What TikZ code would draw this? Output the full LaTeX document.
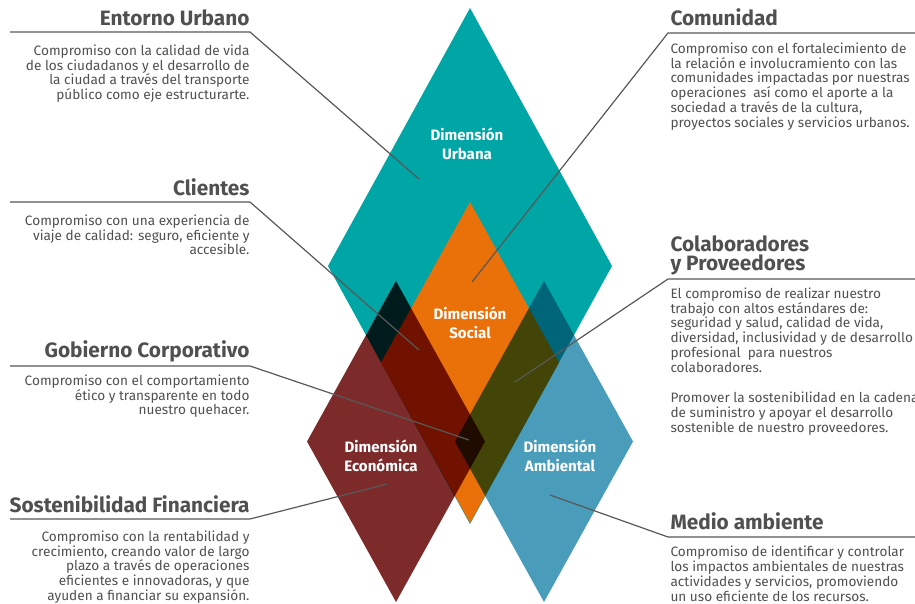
\documentclass[tikz,border=0pt]{standalone}
\usepackage{fontspec}
\setmainfont{Fira Sans}
\definecolor{urbana}{RGB}{0,165,166}
\definecolor{social}{RGB}{234,112,10}
\definecolor{economica}{RGB}{124,42,42}
\definecolor{ambiental}{RGB}{74,157,186}
\definecolor{leader}{RGB}{88,88,88}
\definecolor{txtgray}{RGB}{80,80,80}

\tikzset{every picture/.style={line width=0.75pt}}
\tikzset{
  dimlabel/.style={text=white, font=\fontsize{11.3}{14.5}\selectfont\bfseries, align=center, inner sep=0},
  heading/.style={text=txtgray, font=\fontsize{15.6}{14.3}\selectfont\bfseries, inner sep=0},
  bodytext/.style={text=txtgray, font=\fontsize{10.2}{11.2}\selectfont, inner sep=0},
  leaderline/.style={draw=leader, line width=0.9pt}
}

\begin{document}
\begin{tikzpicture}[x=0.75pt,y=0.75pt,yscale=-1,xscale=1]
\useasboundingbox (0,0) rectangle (915,604);

%Shape: Diamond [Urbana]
\fill[urbana] (470,8) -- (612,266) -- (470,524) -- (328,266) -- cycle ;
%Shape: Diamond [Social]
\fill[social] (470,202) -- (559,362.5) -- (470,523) -- (381,362.5) -- cycle ;
%Shape: Diamond [Economica]
\fill[economica, blend mode=multiply] (396,281) -- (485,441.5) -- (396,602) -- (307,441.5) -- cycle ;
%Shape: Diamond [Ambiental]
\fill[ambiental, blend mode=multiply] (544,281) -- (633,441.5) -- (544,602) -- (455,441.5) -- cycle ;

% Leader points
\coordinate (eu_a) at (10,32);
\coordinate (eu_b) at (250,32);
\coordinate (eu_c) at (419,179);
\coordinate (cl_a) at (10,202);
\coordinate (cl_b) at (250,202);
\coordinate (cl_c) at (419,350);
\coordinate (gc_a) at (10,366);
\coordinate (gc_b) at (250,366);
\coordinate (gc_c) at (469,440);
\coordinate (sf_a) at (10,519);
\coordinate (sf_b) at (250,519);
\coordinate (sf_c) at (387,484);
\coordinate (co_a) at (915,33);
\coordinate (co_b) at (668,33);
\coordinate (co_c) at (472,282);
\coordinate (cp_a) at (915,279);
\coordinate (cp_b) at (668,279);
\coordinate (cp_c) at (515,382);
\coordinate (ma_a) at (915,537);
\coordinate (ma_b) at (668,537);
\coordinate (ma_c) at (550,495);

%Straight Lines
\draw[leaderline] (eu_a) -- (eu_b) -- (eu_c) ;
\draw[leaderline] (cl_a) -- (cl_b) -- (cl_c) ;
\draw[leaderline] (gc_a) -- (gc_b) -- (gc_c) ;
\draw[leaderline] (sf_a) -- (sf_b) -- (sf_c) ;
\draw[leaderline] (co_a) -- (co_b) -- (co_c) ;
\draw[leaderline] (cp_a) -- (cp_b) -- (cp_c) ;
\draw[leaderline] (ma_a) -- (ma_b) -- (ma_c) ;

% Text Node
\node[dimlabel] (urbana) at (467,144) {Dimensión\\Urbana};
% Text Node
\node[dimlabel] (social) at (470,323) {Dimensión\\Social};
% Text Node
\node[dimlabel] (economica) at (381,456) {Dimensión\\Económica};
% Text Node
\node[dimlabel] (ambiental) at (560,456) {Dimensión\\Ambiental};

% Text Node
\node[heading, anchor=base east] (entorno) at (250,25) {Entorno Urbano};
\node[bodytext, anchor=north east, align=right] (entorno_txt) at (250,44) {Compromiso con la calidad de vida\\de los ciudadanos y el desarrollo de\\la ciudad a través del transporte\\público como eje estructurarte.};
% Text Node
\node[heading, anchor=base east] (clientes) at (250,195) {Clientes};
\node[bodytext, anchor=north east, align=right] (clientes_txt) at (250,214) {Compromiso con una experiencia de\\viaje de calidad: seguro, eficiente y\\accesible.};
% Text Node
\node[heading, anchor=base east] (gobierno) at (250,357.5) {Gobierno Corporativo};
\node[bodytext, anchor=north east, align=right] (gobierno_txt) at (250,374) {Compromiso con el comportamiento\\ético y transparente en todo\\nuestro quehacer.};
% Text Node
\node[heading, anchor=base east] (sostenibilidad) at (250,512) {Sostenibilidad Financiera};
\node[bodytext, anchor=north east, align=right] (sostenibilidad_txt) at (250,530) {Compromiso con la rentabilidad y\\crecimiento, creando valor de largo\\plazo a través de operaciones\\eficientes e innovadoras, y que\\ayuden a financiar su expansión.};

% Text Node
\node[heading, anchor=base west] (comunidad) at (670,25) {Comunidad};
\node[bodytext, anchor=north west, align=left] (comunidad_txt) at (670,42) {Compromiso con el fortalecimiento de\\la relación e involucramiento con las\\comunidades impactadas por nuestras\\operaciones~ así como el aporte a la\\sociedad a través de la cultura,\\proyectos sociales y servicios urbanos.};
% Text Node
\node[heading, anchor=north west, align=left] (colaboradores) at (670,235.5) {Colaboradores\\y Proveedores};
\node[bodytext, anchor=north west, align=left] (colaboradores_txt) at (670,287) {El compromiso de realizar nuestro\\trabajo con altos estándares de:\\seguridad y salud, calidad de vida,\\diversidad, inclusividad y de desarrollo\\profesional~ para nuestros\\colaboradores.\\[11.2pt]Promover la sostenibilidad en la cadena\\de suministro y apoyar el desarrollo\\sostenible de nuestro proveedores.};
% Text Node
\node[heading, anchor=base west] (medio) at (670,529) {Medio ambiente};
\node[bodytext, anchor=north west, align=left] (medio_txt) at (670,545.5) {Compromiso de identificar y controlar\\los impactos ambientales de nuestras\\actividades y servicios, promoviendo\\un uso eficiente de los recursos.};

\end{tikzpicture}
\end{document}
